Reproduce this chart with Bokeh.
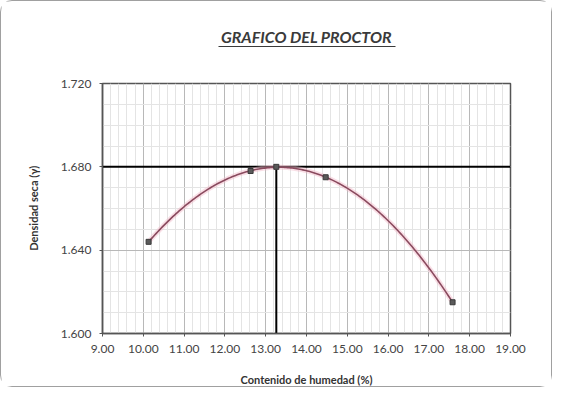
import numpy as np
from bokeh.plotting import figure
from bokeh.models import (FixedTicker, NumeralTickFormatter, Range1d, LinearAxis)
from bokeh.embed import file_html
from bokeh.resources import INLINE

# ---- data ----
humedad = [10.13, 12.63, 13.26, 14.47, 17.58]      # Contenido de humedad (%)
densidad = [1.644, 1.678, 1.680, 1.675, 1.615]     # Densidad seca
w_opt = 13.26            # humedad optima
d_max = 1.680            # densidad seca maxima
x_ticks = [9, 10, 11, 12, 13, 14, 15, 16, 17, 18, 19]
y_ticks = [1.600, 1.640, 1.680, 1.720]
x_min, x_max = 9.0, 19.0
y_min, y_max = 1.600, 1.720
title_text = "GRAFICO DEL PROCTOR"

FONT = "Lato"

p = figure(width=552, height=387, output_backend="svg", toolbar_location=None,
           title=None,
           x_range=Range1d(x_min, x_max), y_range=Range1d(y_min, y_max),
           min_border_left=101, min_border_right=43, min_border_top=82,
           min_border_bottom=45, background_fill_color="white",
           border_fill_color="white")
p.styles = {"border": "1px solid #a0a0a0", "border-radius": "12px",
            "box-sizing": "border-box"}

# axes
p.xaxis.ticker = FixedTicker(ticks=x_ticks,
                             minor_ticks=list(np.round(np.arange(x_min, x_max + 0.001, 0.2), 2)))
p.yaxis.ticker = FixedTicker(ticks=y_ticks,
                             minor_ticks=list(np.round(np.arange(y_min, y_max + 0.0001, 0.01), 3)))
p.xaxis.formatter = NumeralTickFormatter(format="0.00")
p.yaxis.formatter = NumeralTickFormatter(format="0.000")
for ax in (p.xaxis, p.yaxis):
    ax.major_label_text_font = FONT
    ax.major_label_text_font_size = "12px"
    ax.major_label_text_color = "#444444"
    ax.axis_line_color = "#555555"
    ax.axis_line_width = 1.5
    ax.major_tick_line_color = "#555555"
    ax.major_tick_out = 3
    ax.major_tick_in = 0
    ax.minor_tick_line_color = None
    ax.axis_label_text_font = FONT
    ax.axis_label_text_font_style = "bold"
    ax.axis_label_text_font_size = "11px"
    ax.axis_label_text_color = "#333333"
p.xaxis.axis_label = "Contenido de humedad (%)"
p.yaxis.axis_label = "Densidad seca (γ)"
p.xaxis.major_label_standoff = 7
p.yaxis.major_label_standoff = 7
p.xaxis.axis_label_standoff = 17
p.yaxis.axis_label_standoff = 18

p.outline_line_color = "#555555"
p.outline_line_width = 1.5

# title: spacer axis + underlined axis label above the frame
spacer = LinearAxis(ticker=FixedTicker(ticks=[]), axis_line_color=None,
                    major_tick_line_color=None, minor_tick_line_color=None,
                    axis_label=" ", axis_label_standoff=23,
                    axis_label_text_font_size="10px")
p.add_layout(spacer, "above")
title_axis = LinearAxis(ticker=FixedTicker(ticks=[]), bounds=(11.84, 16.18),
                        axis_line_color="#3a3a3a", axis_line_width=1.2,
                        major_tick_line_color=None, minor_tick_line_color=None,
                        axis_label=title_text, axis_label_standoff=1,
                        axis_label_text_font=FONT,
                        axis_label_text_font_style="bold italic",
                        axis_label_text_font_size="16px",
                        axis_label_text_color="#3a3a3a")
p.add_layout(title_axis, "above")

# grid
for g in (p.xgrid, p.ygrid):
    g.grid_line_color = "#b8b8b8"
    g.grid_line_width = 1
    g.minor_grid_line_color = "#e4e4e4"
    g.minor_grid_line_width = 1

# optimum lines
p.line([x_min, x_max], [d_max, d_max], line_color="black", line_width=2)
p.line([w_opt, w_opt], [y_min, d_max], line_color="black", line_width=2)

# trendline (polynomial fit of the data)
coef = np.polyfit(humedad, densidad, 3)
xs = np.linspace(min(humedad), max(humedad), 200)
ys = np.polyval(coef, xs)
p.line(xs, ys, line_color="#f2b8c8", line_width=5, line_alpha=0.45)
p.line(xs, ys, line_color="#8a4a5e", line_width=1.6)

# points
p.scatter(humedad, densidad, marker="square", size=5, fill_color="#5a5a5a",
          line_color="#3a3a3a")

open("out.html", "w").write(file_html(p, INLINE))
